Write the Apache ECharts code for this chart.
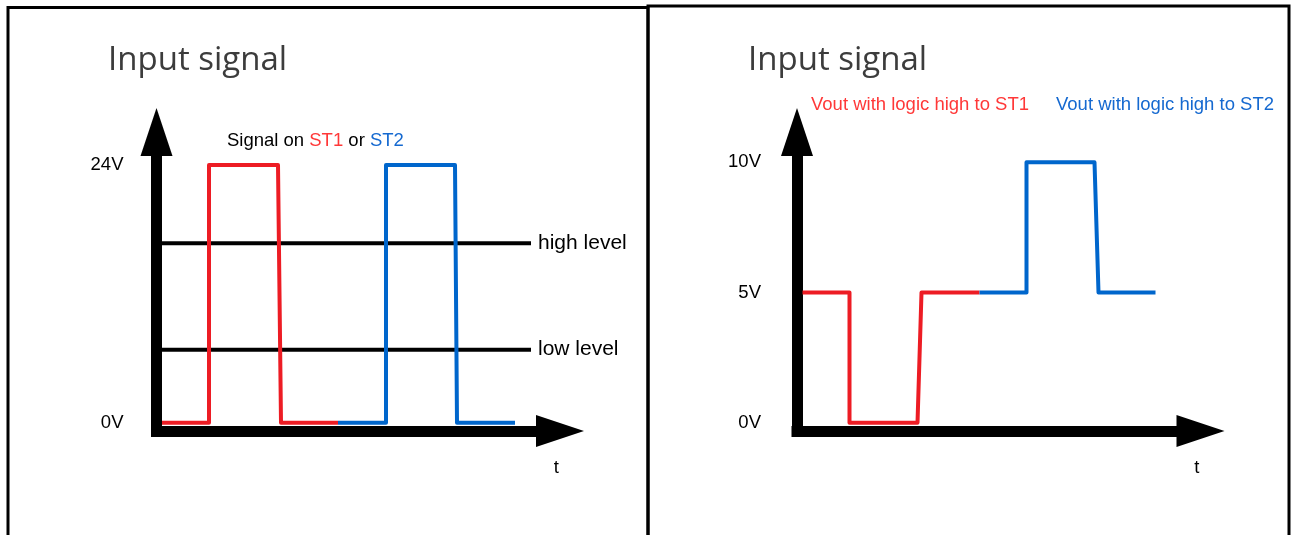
<!DOCTYPE html>
<html>
<head>
<meta charset="utf-8">
<style>
  html, body { margin: 0; padding: 0; background: #fff; }
  #chart { width: 1295px; height: 535px; }
</style>
<script src="https://cdn.jsdelivr.net/npm/echarts@6.0.0/dist/echarts.min.js"></script>
</head>
<body>
<div id="chart"></div>
<script>
// ---- data (time in arbitrary units, voltage in V) ----
const titleText = 'Input signal';

// Left chart: input signals
const tInRed   = [0, 4.7, 4.7, 11.6, 11.9, 17.6];
const vInRed   = [0, 0, 24, 24, 0, 0];
const tInBlue  = [17.6, 22.4, 22.4, 29.3, 29.5, 35.3];
const vInBlue  = [0, 0, 24, 24, 0, 0];
const tLevel   = [0, 36.9];
const highLevel = 16.7;
const lowLevel  = 6.8;
const inTicks  = [0, 24];

// Right chart: output voltages
const tOutRed  = [0, 4.7, 4.7, 11.5, 11.9, 17.7];
const vOutRed  = [5, 5, 0, 0, 5, 5];
const tOutBlue = [17.7, 22.4, 22.4, 29.2, 29.6, 35.3];
const vOutBlue = [5, 5, 10, 10, 5, 5];
const outTicks = [0, 5, 10];

const RED = '#ed1c24', BLUE = '#0066cc';
const RED_TXT = '#ff3838', BLUE_TXT = '#1569d0';
const SANS = '"Liberation Sans", Arial, sans-serif';

const pairs = (xs, ys) => xs.map((x, i) => [x, ys[i]]);

const chart = echarts.init(document.getElementById('chart'), null, { renderer: 'canvas' });

function xAx(gridIndex) {
  return {
    type: 'value', gridIndex, min: -0.55, max: 39.8,
    name: 't', nameLocation: 'end', nameGap: -1,
    nameTextStyle: { align: 'right', verticalAlign: 'top', padding: [27, 0, 0, 0],
      fontSize: 18.5, color: '#000', fontFamily: SANS },
    axisLine: { show: true, onZero: false, symbol: ['none', 'triangle'], symbolSize: [32, 48],
      lineStyle: { color: '#000', width: 11, cap: 'square' } },
    axisTick: { show: false }, axisLabel: { show: false }, splitLine: { show: false }
  };
}
function yAx(gridIndex, min, max, ticks, margin) {
  return {
    type: 'value', gridIndex, min, max,
    axisLine: { show: true, onZero: false, symbol: ['none', 'triangle'], symbolSize: [32, 48],
      lineStyle: { color: '#000', width: 11, cap: 'square' } },
    axisTick: { show: false },
    axisLabel: { show: true, customValues: ticks, formatter: '{value}V', margin,
      fontSize: 18.5, color: '#000', fontFamily: SANS },
    splitLine: { show: false }
  };
}

const sigLine = (color) => ({ color, width: 4, join: 'round', cap: 'butt' });
const TITLE_STYLE = { fontFamily: '"Open Sans", sans-serif', fontSize: 33, fontWeight: 'normal', color: '#3c3c3c' };

const option = {
  animation: false,
  backgroundColor: '#fff',
  graphic: [
    { type: 'rect', silent: true, shape: { x: 8, y: 7.5, width: 640, height: 600 },
      style: { fill: 'none', stroke: '#000', lineWidth: 3 } },
    { type: 'rect', silent: true, shape: { x: 648, y: 6, width: 641, height: 600 },
      style: { fill: 'none', stroke: '#000', lineWidth: 3 } }
  ],
  title: [
    { text: titleText, left: 108, top: 44, padding: 0, textStyle: TITLE_STYLE },
    { text: titleText, left: 748, top: 44, padding: 0, textStyle: TITLE_STYLE },
    { text: '{k|Signal on }{r|ST1}{k| or }{b|ST2}', left: 227, top: 131, padding: 0,
      textStyle: { fontWeight: 'normal', rich: {
        k: { fontSize: 18.5, fontFamily: SANS, fontWeight: 'normal', color: '#000' },
        r: { fontSize: 18.5, fontFamily: SANS, fontWeight: 'normal', color: RED_TXT },
        b: { fontSize: 18.5, fontFamily: SANS, fontWeight: 'normal', color: BLUE_TXT } } } },
    { text: 'Vout with logic high to ST1', left: 811, top: 95.5, padding: 0,
      textStyle: { fontSize: 18.5, fontFamily: SANS, color: RED_TXT, fontWeight: 'normal' } },
    { text: 'Vout with logic high to ST2', left: 1056, top: 95.5, padding: 0,
      textStyle: { fontSize: 18.5, fontFamily: SANS, color: BLUE_TXT, fontWeight: 'normal' } }
  ],
  grid: [
    { left: 156.5, top: 132, width: 403.5, height: 299, outerBoundsMode: 'none', containLabel: false },
    { left: 797, top: 132, width: 403.5, height: 299, outerBoundsMode: 'none', containLabel: false }
  ],
  xAxis: [xAx(0), xAx(1)],
  yAxis: [
    yAx(0, -0.773, 27.07, inTicks, 33),
    yAx(1, -0.317, 11.16, outTicks, 36)
  ],
  series: [
    { name: 'high level', type: 'line', xAxisIndex: 0, yAxisIndex: 0, z: 1,
      data: pairs(tLevel, [highLevel, highLevel]), showSymbol: false, symbol: 'none',
      lineStyle: { color: '#000', width: 4 },
      endLabel: { show: true, formatter: '{a}', distance: 7, fontSize: 21, color: '#000', fontFamily: SANS } },
    { name: 'low level', type: 'line', xAxisIndex: 0, yAxisIndex: 0, z: 1,
      data: pairs(tLevel, [lowLevel, lowLevel]), showSymbol: false, symbol: 'none',
      lineStyle: { color: '#000', width: 4 },
      endLabel: { show: true, formatter: '{a}', distance: 7, fontSize: 21, color: '#000', fontFamily: SANS } },
    { name: 'ST1', type: 'line', xAxisIndex: 0, yAxisIndex: 0, z: 3,
      data: pairs(tInRed, vInRed), showSymbol: false, symbol: 'none', lineStyle: sigLine(RED) },
    { name: 'ST2', type: 'line', xAxisIndex: 0, yAxisIndex: 0, z: 3,
      data: pairs(tInBlue, vInBlue), showSymbol: false, symbol: 'none', lineStyle: sigLine(BLUE) },
    { name: 'Vout with logic high to ST1', type: 'line', xAxisIndex: 1, yAxisIndex: 1, z: 3,
      data: pairs(tOutRed, vOutRed), showSymbol: false, symbol: 'none', lineStyle: sigLine(RED) },
    { name: 'Vout with logic high to ST2', type: 'line', xAxisIndex: 1, yAxisIndex: 1, z: 3,
      data: pairs(tOutBlue, vOutBlue), showSymbol: false, symbol: 'none', lineStyle: sigLine(BLUE) }
  ]
};
chart.setOption(option);
</script>
</body>
</html>
